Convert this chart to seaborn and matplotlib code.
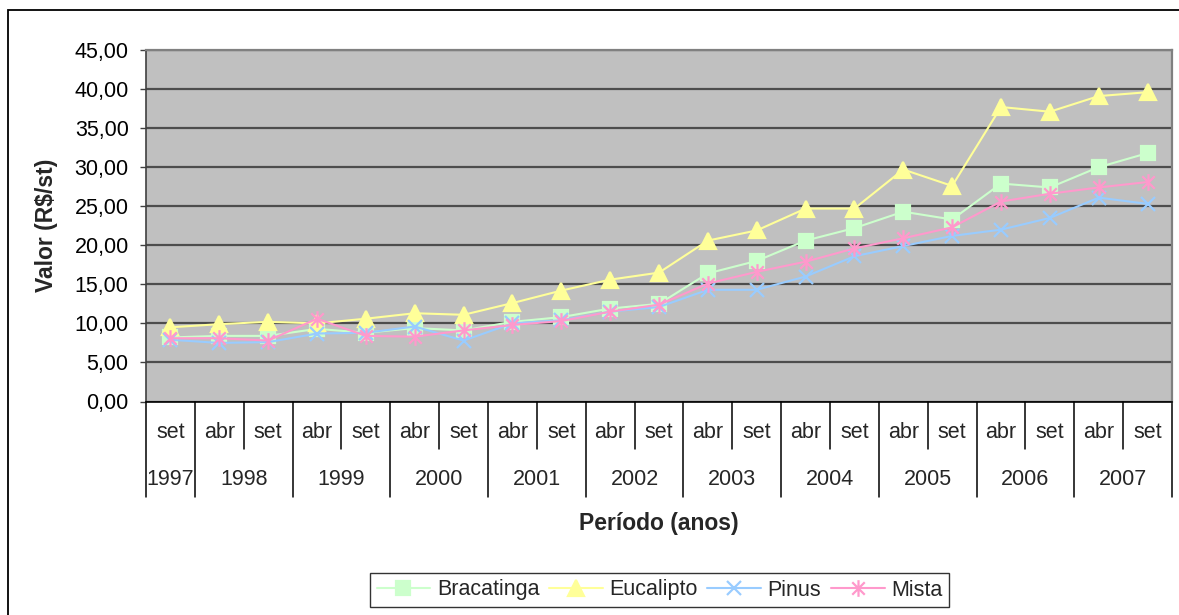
import matplotlib
matplotlib.use("Agg")
import matplotlib.pyplot as plt
import matplotlib.transforms as mtransforms
from matplotlib.lines import Line2D
from matplotlib.patches import Rectangle
from matplotlib.path import Path
import numpy as np
import seaborn as sns

# Categories: collection month and year of each price survey
meses = ["set"] + ["abr", "set"] * 10
anos = ["1997", "1998", "1999", "2000", "2001", "2002",
        "2003", "2004", "2005", "2006", "2007"]

# Firewood price (R$/st) per species
bracatinga = [8.2, 8.4, 8.4, 9.3, 8.8, 9.4, 9.1, 10.2, 10.8, 11.9, 12.5,
              16.4, 18.0, 20.6, 22.2, 24.3, 23.3, 27.9, 27.4, 30.0, 31.8]
eucalipto = [9.5, 9.9, 10.2, 10.0, 10.6, 11.3, 11.1, 12.6, 14.2, 15.6, 16.5,
             20.6, 21.9, 24.7, 24.7, 29.7, 27.6, 37.7, 37.1, 39.1, 39.6]
pinus = [7.9, 7.5, 7.6, 8.7, 8.8, 9.6, 7.8, 10.0, 10.4, 11.5, 12.1,
         14.3, 14.3, 16.0, 18.6, 19.9, 21.2, 22.0, 23.5, 26.1, 25.3]
mista = [8.1, 8.1, 7.8, 10.6, 8.4, 8.3, 9.1, 9.8, 10.3, 11.5, 12.4,
         15.1, 16.6, 17.9, 19.6, 20.9, 22.3, 25.6, 26.6, 27.4, 28.1]

# Asterisk marker: an "x" crossed by a vertical stroke
asterisco = Path(
    [(0, -1), (0, 1), (-0.75, -0.75), (0.75, 0.75), (-0.75, 0.75), (0.75, -0.75)],
    [Path.MOVETO, Path.LINETO, Path.MOVETO, Path.LINETO, Path.MOVETO, Path.LINETO],
)

series = [
    ("Bracatinga", bracatinga, "#CCFFCC", "s", 10),
    ("Eucalipto", eucalipto, "#FFFF99", "^", 11),
    ("Pinus", pinus, "#99CCFF", "x", 10),
    ("Mista", mista, "#FF99CC", asterisco, 12),
]

sns.set_style("white")
plt.rcParams["font.family"] = ["Liberation Sans", "DejaVu Sans"]

FS_TICK = 15.5
FS_TITLE = 16.5
FS_LEG = 15.5

W, H = 1179, 615
fig = plt.figure(figsize=(W / 100, H / 100), dpi=100)
ax = fig.add_axes([146 / W, 1 - 401.5 / H, 1026 / W, 351.5 / H])
ax.set_facecolor("#C0C0C0")

x = np.arange(len(meses))
for nome, valores, cor, marcador, tam in series:
    sns.lineplot(x=x, y=valores, ax=ax, color=cor, lw=1.5, label=nome,
                 marker=marcador, markersize=tam, markerfacecolor=cor,
                 markeredgecolor=cor, markeredgewidth=1.6)

if ax.get_legend() is not None:
    ax.get_legend().remove()

# Value axis
ax.set_xlim(-0.5, len(meses) - 0.5)
ax.set_ylim(0, 45)
yt = np.arange(0, 46, 5)
ax.set_yticks(yt)
ax.set_yticklabels([f"{v:.2f}".replace(".", ",") for v in yt])
ax.tick_params(axis="y", length=4.5, width=1, pad=8, labelsize=FS_TICK,
               colors="black", left=True)
ax.tick_params(axis="y", color="#404040")
ax.set_xticks([])
ax.grid(axis="y", color="#4D4D4D", lw=1.6)
ax.grid(axis="x", visible=False)
ax.set_axisbelow(True)

for lado in ("top", "right"):
    ax.spines[lado].set_color("#808080")
    ax.spines[lado].set_linewidth(1.6)
ax.spines["left"].set_color("#404040")
ax.spines["left"].set_linewidth(1.2)
ax.spines["bottom"].set_color("black")
ax.spines["bottom"].set_linewidth(1.2)

# Two-level category axis: months on top, years below
trans = mtransforms.blended_transform_factory(ax.transData, ax.transAxes)
y_mes, y_ano = -0.087, -0.2233
y_curto, y_longo = -0.135, -0.2717
for i, m in enumerate(meses):
    ax.text(i, y_mes, m, transform=trans, ha="center", va="center",
            fontsize=FS_TICK)
for b in range(len(meses) + 1):
    fim = y_longo if (b == 0 or b % 2 == 1) else y_curto
    ax.add_line(Line2D([b - 0.5, b - 0.5], [0, fim], transform=trans,
                       clip_on=False, color="black", lw=1.1))
for k, ano in enumerate(anos):
    centro = 0 if k == 0 else 2 * k - 0.5
    ax.text(centro, y_ano, ano, transform=trans, ha="center", va="center",
            fontsize=FS_TICK)

ax.set_ylabel(r"Valor (R\$/st)", fontsize=FS_TITLE, fontweight="bold")
ax.yaxis.set_label_coords(-0.0965, 0.5)
ax.yaxis.label.set_va("center")
ax.set_xlabel("Período (anos)", fontsize=FS_TITLE, fontweight="bold")
ax.xaxis.set_label_coords(0.5, -0.3457)
ax.xaxis.label.set_va("center")

handles, labels = ax.get_legend_handles_labels()
leg = fig.legend(handles, labels, loc="center",
                 bbox_to_anchor=(659.5 / W, 1 - 590 / H), ncol=4,
                 frameon=True, fancybox=False, edgecolor="black",
                 fontsize=FS_LEG, handlelength=2.5, handletextpad=0.3,
                 columnspacing=0.45, borderpad=0.3)
leg.get_frame().set_linewidth(1)
leg.get_frame().set_facecolor("white")

# Chart area frame
fig.patches.append(Rectangle((8 / W, -0.05), 1.2, 1 - 10 / H + 0.05,
                             transform=fig.transFigure, fill=False,
                             ec="black", lw=1.3))

fig.savefig("out.png", dpi=100)
